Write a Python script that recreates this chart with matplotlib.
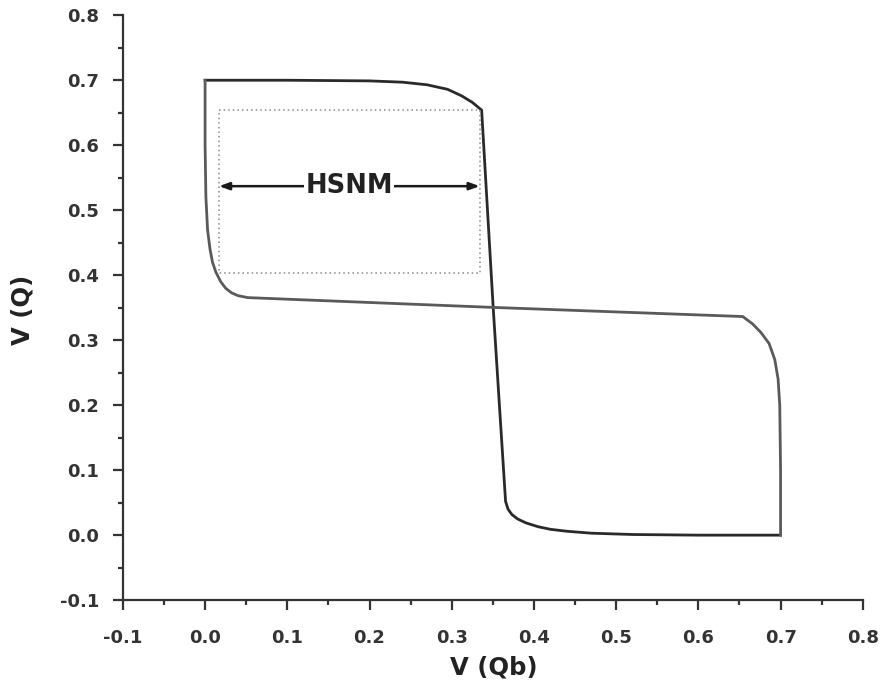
import matplotlib
matplotlib.use("Agg")
import matplotlib.pyplot as plt
from matplotlib.ticker import MultipleLocator, FormatStrFormatter

plt.rcParams['font.family'] = ['DejaVu Sans']
plt.rcParams['font.weight'] = 'bold'
plt.rcParams['axes.unicode_minus'] = False

# Inverter voltage transfer characteristic (input -> output), volts
vtc_in = [0.000, 0.100, 0.200, 0.240, 0.270, 0.295, 0.312, 0.325, 0.3364,
          0.3435, 0.3505, 0.358, 0.3655, 0.3685, 0.373, 0.380, 0.390, 0.405,
          0.420, 0.440, 0.470, 0.520, 0.600, 0.700]
vtc_out = [0.700, 0.700, 0.699, 0.697, 0.693, 0.686, 0.676, 0.666, 0.654,
           0.500, 0.349, 0.200, 0.052, 0.040, 0.032, 0.025, 0.019, 0.013,
           0.009, 0.006, 0.003, 0.001, 0.000, 0.000]

# Largest square inside the upper lobe (hold static noise margin)
snm_left, snm_right = 0.017, 0.334
snm_bottom, snm_top = 0.403, 0.654
arrow_y = 0.537
snm_label = "HSNM"

x_label = "V (Qb)"
y_label = "V (Q)"
axis_min, axis_max = -0.1, 0.8

fig = plt.figure(figsize=(8.84, 6.93), dpi=100)
ax = fig.add_axes([0.139, 0.134, 0.837, 0.844])

# butterfly curve: inverter 1 and the mirrored inverter 2
ax.plot(vtc_in, vtc_out, color='#2a2a2a', lw=2.0, solid_joinstyle='round')
ax.plot(vtc_out, vtc_in, color='#5a5a5a', lw=2.0, solid_joinstyle='round')

# noise-margin square
ax.plot([snm_left, snm_right, snm_right, snm_left, snm_left],
        [snm_top, snm_top, snm_bottom, snm_bottom, snm_top],
        color='#8a8a8a', lw=1.1, ls=(0, (1, 2)))

ax.annotate('', xy=(snm_left, arrow_y), xytext=(snm_right, arrow_y),
            arrowprops=dict(arrowstyle='<|-|>,head_length=0.6,head_width=0.22',
                            color='#1a1a1a', lw=1.8, shrinkA=0, shrinkB=0))
ax.text((snm_left + snm_right) / 2, arrow_y, snm_label, ha='center', va='center',
        fontsize=18.5, fontweight='bold', color='#222222',
        bbox=dict(facecolor='white', edgecolor='none', pad=1.0))

ax.set_xlim(axis_min, axis_max)
ax.set_ylim(axis_min, axis_max)

for s in ('top', 'right'):
    ax.spines[s].set_visible(False)
for s in ('left', 'bottom'):
    ax.spines[s].set_linewidth(1.6)
    ax.spines[s].set_color('#333333')

ax.xaxis.set_major_locator(MultipleLocator(0.1))
ax.yaxis.set_major_locator(MultipleLocator(0.1))
ax.xaxis.set_minor_locator(MultipleLocator(0.05))
ax.yaxis.set_minor_locator(MultipleLocator(0.05))
ax.xaxis.set_major_formatter(FormatStrFormatter('%.1f'))
ax.yaxis.set_major_formatter(FormatStrFormatter('%.1f'))

ax.tick_params(which='major', direction='out', length=7, width=1.6,
               color='#333333', labelsize=13, labelcolor='#333333')
ax.tick_params(which='minor', direction='out', length=3.5, width=1.6,
               color='#333333')
ax.tick_params(axis='x', which='major', pad=14)
ax.tick_params(axis='y', which='major', pad=10)
for lab in ax.get_xticklabels() + ax.get_yticklabels():
    lab.set_fontweight('bold')

ax.set_xlabel(x_label, fontsize=17.5, fontweight='bold', color='#222222')
ax.set_ylabel(y_label, fontsize=17.5, fontweight='bold', color='#222222')
ax.xaxis.label.set_va('center')
ax.yaxis.label.set_va('center')
ax.xaxis.set_label_coords(0.501, -0.115)
ax.yaxis.set_label_coords(-0.136, 0.496)

fig.savefig('out.png', dpi=100)
